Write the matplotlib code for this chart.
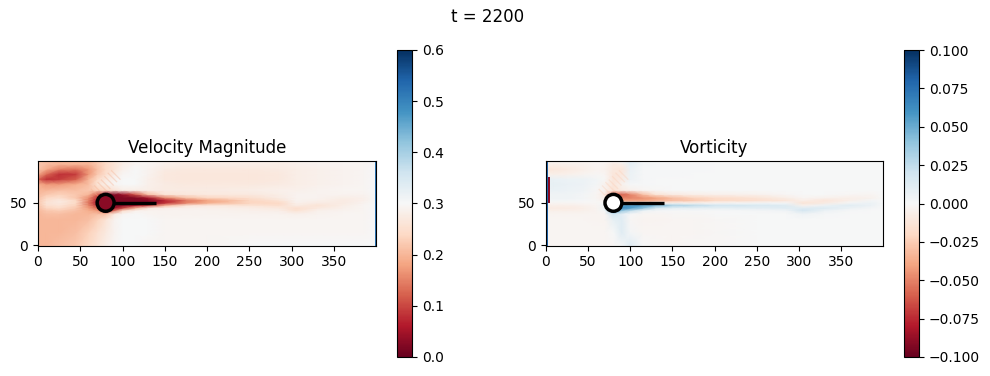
import matplotlib
matplotlib.use("Agg")
import matplotlib.pyplot as plt
from matplotlib.patches import Circle
import numpy as np

time_label = "t = 2200"
titles = ["Velocity Magnitude", "Vorticity"]
x_ticks = [0, 50, 100, 150, 200, 250, 300, 350]
y_ticks = [0, 50]

grid_x = [-0.5, 10, 25, 45, 60, 70, 80, 90, 100, 115, 130, 150, 175, 200, 250,
          285, 305, 330, 360, 385, 399.5]
grid_y = [-0.5, 15, 30, 37, 41, 44, 47, 50, 53, 56, 60, 65, 72, 78, 84, 90, 96, 99.5]

speed = [
    [.20, .20, .21, .22, .24, .26, .28, .295, .30, .30, .295, .295, .295, .295, .30, .30, .30, .30, .30, .30, .30],
    [.20, .20, .20, .21, .23, .25, .27, .29, .30, .30, .30, .295, .295, .295, .295, .295, .295, .295, .295, .295, .30],
    [.20, .20, .20, .20, .21, .23, .26, .29, .30, .30, .30, .295, .295, .295, .295, .295, .295, .295, .295, .295, .30],
    [.20, .21, .21, .20, .20, .21, .21, .27, .295, .30, .295, .29, .29, .29, .29, .29, .285, .29, .295, .295, .30],
    [.205, .22, .225, .21, .19, .17, .10, .13, .24, .285, .29, .29, .29, .29, .285, .28, .255, .285, .29, .295, .30],
    [.21, .235, .245, .22, .175, .13, .04, .04, .10, .20, .27, .285, .285, .285, .28, .27, .25, .27, .285, .295, .30],
    [.215, .25, .26, .23, .155, .09, .03, .02, .03, .06, .10, .20, .26, .27, .26, .25, .275, .26, .28, .295, .30],
    [.22, .26, .27, .24, .14, .06, .03, .02, .02, .02, .03, .08, .15, .19, .235, .24, .285, .275, .275, .29, .30],
    [.22, .25, .27, .24, .15, .07, .03, .02, .02, .02, .02, .07, .14, .18, .235, .26, .29, .285, .275, .285, .30],
    [.21, .24, .25, .22, .16, .08, .03, .02, .02, .02, .05, .15, .21, .235, .25, .275, .29, .29, .28, .285, .30],
    [.205, .22, .23, .22, .20, .12, .03, .02, .04, .11, .21, .26, .265, .27, .27, .28, .29, .29, .29, .29, .30],
    [.20, .20, .21, .21, .22, .23, .24, .26, .28, .28, .28, .275, .275, .275, .28, .285, .285, .29, .295, .295, .30],
    [.19, .17, .17, .19, .21, .26, .28, .295, .30, .30, .285, .275, .27, .27, .27, .275, .28, .285, .29, .295, .30],
    [.13, .08, .09, .12, .20, .24, .27, .29, .30, .30, .285, .27, .265, .265, .265, .27, .28, .285, .29, .295, .30],
    [.19, .13, .08, .09, .17, .22, .25, .275, .295, .30, .29, .27, .265, .265, .265, .27, .28, .285, .29, .295, .30],
    [.22, .19, .15, .14, .17, .21, .24, .26, .285, .30, .29, .275, .27, .27, .27, .275, .28, .285, .29, .295, .30],
    [.22, .21, .20, .20, .20, .22, .24, .26, .28, .295, .295, .285, .28, .28, .28, .28, .285, .29, .295, .295, .30],
    [.22, .21, .20, .20, .20, .22, .24, .26, .28, .295, .295, .285, .28, .28, .28, .28, .285, .29, .295, .295, .30],
]

vorticity = [
    [-.002, -.002, -.002, -.002, -.002, -.002, -.001, .002, .012, 0, -.001, -.002, -.001, -.001, 0, 0, 0, 0, 0, 0, 0],
    [-.002, -.002, -.002, -.002, -.002, -.002, 0, .012, .002, -.002, -.002, -.002, -.002, -.001, 0, 0, 0, 0, 0, 0, 0],
    [-.002, -.002, -.002, -.002, -.003, -.003, .008, .012, -.001, -.003, -.003, -.002, -.002, -.001, 0, 0, 0, 0, 0, 0, 0],
    [-.003, -.003, -.003, -.003, -.003, -.002, .02, .01, .001, -.002, -.002, -.001, -.001, 0, 0, 0, .004, .001, 0, 0, 0],
    [-.006, -.006, -.006, -.005, -.003, .002, .05, .04, .025, .006, .002, .001, .001, 0, .002, .004, .018, .006, .001, 0, 0],
    [-.008, -.008, -.008, -.006, -.003, .004, .06, .065, .055, .04, .016, .008, .008, .008, .01, .012, .012, .014, .006, .002, 0],
    [-.006, -.006, -.006, -.004, -.002, .004, .03, .055, .06, .055, .045, .032, .026, .02, .016, .014, -.004, .006, .012, .006, 0],
    [-.002, -.002, -.002, -.001, -.001, 0, 0, -.008, -.008, -.008, -.004, -.004, -.004, -.002, .002, .002, -.014, -.008, .002, .006, 0],
    [.001, .002, .002, .001, -.001, -.004, -.025, -.04, -.04, -.04, -.035, -.03, -.026, -.02, -.016, -.012, -.006, -.012, -.006, .002, 0],
    [.003, .004, .004, .002, -.002, -.006, -.04, -.05, -.05, -.045, -.04, -.03, -.022, -.018, -.014, -.007, -.002, -.004, -.006, -.004, 0],
    [.004, .004, .004, .002, -.002, -.008, -.055, -.06, -.05, -.03, -.014, -.008, -.006, -.005, -.004, -.001, 0, 0, -.001, -.002, 0],
    [.007, .007, .006, .004, -.001, -.004, -.014, -.008, -.005, -.002, -.001, 0, 0, 0, 0, 0, 0, 0, 0, 0, 0],
    [.008, .008, .007, .005, .002, -.004, -.012, -.004, .001, .001, 0, 0, 0, 0, 0, 0, 0, 0, 0, 0, 0],
    [.008, .007, .006, .005, .003, -.001, -.012, -.008, .005, .001, 0, 0, 0, 0, 0, 0, 0, 0, 0, 0, 0],
    [-.006, -.006, -.005, -.003, -.001, -.002, -.012, -.010, .006, .001, .001, .001, 0, 0, 0, 0, 0, 0, 0, 0, 0],
    [-.012, -.011, -.009, -.006, -.003, -.004, -.010, -.012, .007, .001, .001, .001, .001, 0, 0, 0, 0, 0, 0, 0, 0],
    [-.006, -.006, -.005, -.004, -.002, -.003, -.008, -.006, .009, .002, .001, .001, .001, 0, 0, 0, 0, 0, 0, 0, 0],
    [-.002, -.002, -.002, -.002, -.001, -.001, -.002, .002, .011, .002, .001, .001, .001, 0, 0, 0, 0, 0, 0, 0, 0],
]

# walls of the domain
speed_wall = 0.52
speed_inlet_x = [-0.5, 1.5]
speed_outlet_x = [398, 399.5]
vort_inlet = 0.08
vort_inlet_x = [-0.5, 3.0]
vort_red_x = [3.0, 5.0]
vort_red_y = [50, 80]
vort_red = -0.09
wall_y = [-0.5, 99.5]

# ripple stripes next to the cylinder
ripple_x = [68, 72, 76, 80, 84, 88, 92]
ripple_y = [61, 65, 69, 72, 76, 80, 83]

cyl_x, cyl_y, cyl_r = 80, 50, 10
plate_end = 140

W, H = 990, 376


def px_axes(fig, left, top, right, bottom):
    return fig.add_axes([left / W, 1 - bottom / H, (right - left) / W, (bottom - top) / H])


def panel(fig, box, cbox, field, vmin, vmax, title, cyl_face, ripple_value):
    ax = px_axes(fig, *box)
    mesh = ax.pcolormesh(grid_x, grid_y, field, cmap="RdBu", vmin=vmin, vmax=vmax, shading="gouraud")
    ax.set_xlim(-0.5, 399.5)
    ax.set_ylim(-0.5, 99.5)
    ax.set_xticks(x_ticks)
    ax.set_yticks(y_ticks)
    ax.set_title(title, fontsize=12)
    for rx, ry in zip(ripple_x, ripple_y):
        ax.plot([rx - 5, rx + 5], [ry + 5, ry - 5], color=mesh.cmap(mesh.norm(ripple_value)),
                lw=0.9, alpha=0.35, zorder=2)
    ax.add_patch(Circle((cyl_x, cyl_y), cyl_r, facecolor=cyl_face, edgecolor="black", lw=2.5, zorder=3))
    ax.plot([cyl_x + cyl_r, plate_end], [cyl_y, cyl_y], color="black", lw=2.4,
            solid_capstyle="butt", zorder=3)
    fig.colorbar(mesh, cax=px_axes(fig, *cbox))
    return ax, mesh


fig = plt.figure(figsize=(W / 100, H / 100), dpi=100)
fig.suptitle(time_label, x=487.5 / W, y=1 - 16.5 / H, fontsize=12, va="center")

ax1, mesh1 = panel(fig, (37.5, 161, 376, 245.5), (397, 50, 412, 357), speed, 0, 0.6, titles[0],
                   plt.cm.RdBu(0.05), 0.19)
ax1.fill_betweenx(wall_y, *speed_inlet_x, color=mesh1.cmap(mesh1.norm(speed_wall)), lw=0, zorder=2)
ax1.fill_betweenx(wall_y, *speed_outlet_x, color=mesh1.cmap(mesh1.norm(speed_wall)), lw=0, zorder=2)

ax2, mesh2 = panel(fig, (545.5, 161, 883, 245.5), (904, 50, 919, 357), vorticity, -0.1, 0.1, titles[1],
                   "white", -0.025)
ax2.fill_betweenx(wall_y, *vort_inlet_x, color=mesh2.cmap(mesh2.norm(vort_inlet)), lw=0, zorder=2)
ax2.fill_betweenx(vort_red_y, *vort_red_x, color=mesh2.cmap(mesh2.norm(vort_red)), lw=0, zorder=2.5)

fig.savefig("out.png", dpi=100)
